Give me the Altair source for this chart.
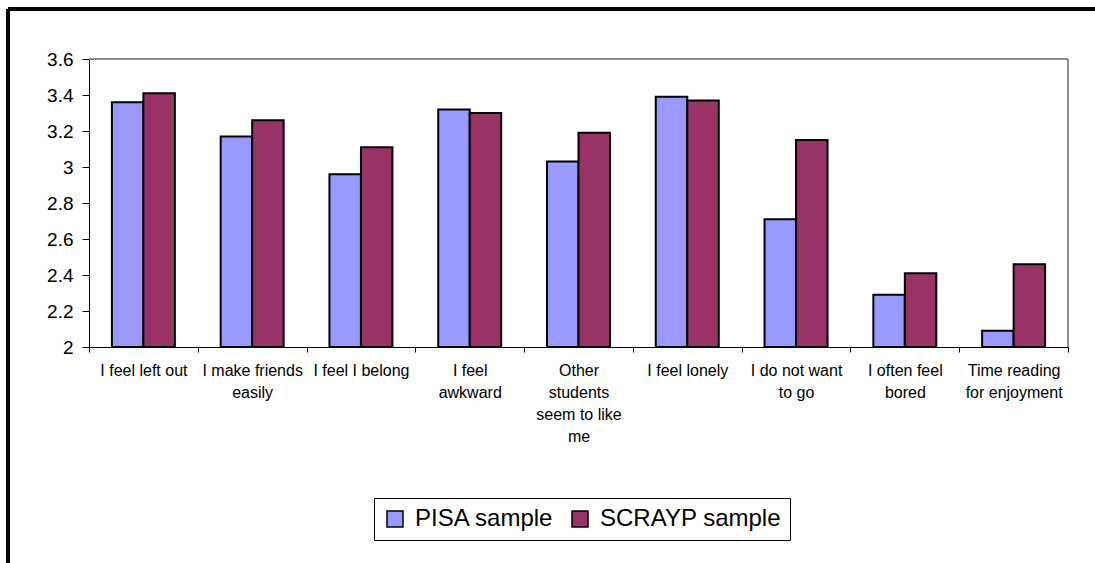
import altair as alt
import pandas as pd

# Survey items (full text) and how each one wraps under the axis
categories = [
    "I feel left out",
    "I make friends easily",
    "I feel I belong",
    "I feel awkward",
    "Other students seem to like me",
    "I feel lonely",
    "I do not want to go",
    "I often feel bored",
    "Time reading for enjoyment",
]
label_lines = [
    ["I feel left out"],
    ["I make friends", "easily"],
    ["I feel I belong"],
    ["I feel", "awkward"],
    ["Other", "students", "seem to like", "me"],
    ["I feel lonely"],
    ["I do not want", "to go"],
    ["I often feel", "bored"],
    ["Time reading", "for enjoyment"],
]

series = ["PISA sample", "SCRAYP sample"]
pisa = [3.36, 3.17, 2.96, 3.32, 3.03, 3.39, 2.71, 2.29, 2.09]
scrayp = [3.41, 3.26, 3.11, 3.30, 3.19, 3.37, 3.15, 2.41, 2.46]
colors = ["#9999FF", "#993366"]

y_min, y_max = 2.0, 3.6
y_ticks = [2.0, 2.2, 2.4, 2.6, 2.8, 3.0, 3.2, 3.4, 3.6]

rows = []
for i, c in enumerate(categories):
    rows.append({"item": c, "sample": series[0], "score": pisa[i]})
    rows.append({"item": c, "sample": series[1], "score": scrayp[i]})
df = pd.DataFrame(rows)

# Multi-line tick labels
def js_list(items):
    return "[" + ",".join("'" + s.replace("'", "\\'") + "'" for s in items) + "]"

label_expr = ""
for c, lines in zip(categories, label_lines):
    label_expr += f"datum.value == '{c}' ? {js_list(lines)} : "
label_expr += "datum.value"

W, H = 979, 288
FONT = "Liberation Sans"

bars = alt.Chart(df).mark_bar(stroke="black", strokeWidth=2).encode(
    x=alt.X(
        "item:N",
        sort=categories,
        scale=alt.Scale(paddingInner=0, paddingOuter=0),
        axis=alt.Axis(
            title=None,
            labelAngle=0,
            labelExpr=label_expr,
            labelFontSize=16,
            labelLineHeight=22,
            labelPadding=10,
            labelBaseline="top",
            tickBand="extent",
            tickSize=5,
            tickColor="black",
            domainColor="black",
            labelLimit=200,
            labelOverlap=False,
        ),
    ),
    xOffset=alt.XOffset(
        "sample:N",
        sort=series,
        scale=alt.Scale(paddingInner=0, paddingOuter=0.727),
    ),
    y=alt.Y(
        "score:Q",
        scale=alt.Scale(domain=[y_min, y_max], zero=False, nice=False),
        axis=alt.Axis(
            title=None,
            values=y_ticks,
            format=".1~f",
            labelFontSize=19,
            labelPadding=9,
            tickSize=7,
            tickColor="black",
            domainColor="black",
            grid=False,
        ),
    ),
    y2=alt.datum(y_min),
    color=alt.Color(
        "sample:N",
        sort=series,
        scale=alt.Scale(domain=series, range=colors),
        legend=alt.Legend(
            title=None,
            orient="none",
            direction="horizontal",
            legendX=285,
            legendY=439,
            strokeColor="black",
            fillColor="white",
            padding=9,
            symbolType="square",
            symbolSize=256,
            symbolStrokeColor="black",
            symbolStrokeWidth=1.5,
            labelFontSize=24,
            labelOffset=8,
            columnPadding=14,
            labelLimit=300,
        ),
    ),
)

# Grey plot-area border on top and right
plot_top = alt.Chart(df).mark_rule(color="#8c8c8c", strokeWidth=2).encode(
    x=alt.value(0), x2=alt.value(W), y=alt.value(0)
)
plot_right = alt.Chart(df).mark_rule(color="#8c8c8c", strokeWidth=2).encode(
    x=alt.value(W), y=alt.value(0), y2=alt.value(H)
)

# Outer frame: top and left edges
frame_top = alt.Chart(df).mark_rule(color="black", strokeWidth=2.5).encode(
    x=alt.value(-81), x2=alt.value(1095 - 89), y=alt.value(-50)
)
frame_left = alt.Chart(df).mark_rule(color="black", strokeWidth=2.5).encode(
    x=alt.value(-81), y=alt.value(-50), y2=alt.value(563 - 59)
)

chart = (
    alt.layer(plot_top, plot_right, bars, frame_top, frame_left)
    .properties(
        width=W,
        height=H,
        autosize=alt.AutoSizeParams(type="none"),
        padding={"left": 89, "top": 59, "right": 27, "bottom": 216},
        background="white",
    )
    .configure_view(stroke=None)
    .configure_axis(labelFont=FONT, labelColor="black")
    .configure_legend(labelFont=FONT, labelColor="black")
)

chart.save("out.html", embed_options={"renderer": "svg", "actions": False})
